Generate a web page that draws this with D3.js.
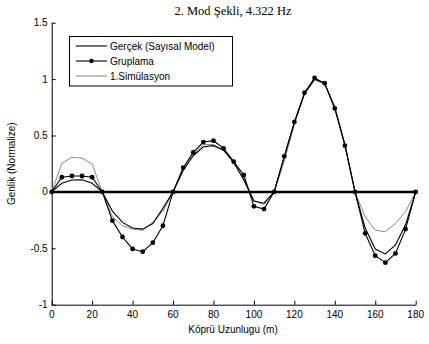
<!DOCTYPE html>
<html>
<head>
<meta charset="utf-8">
<script src="https://cdn.jsdelivr.net/npm/d3@7"></script>
<style>
  body { margin: 0; background: #fff; }
  svg text { font-family: "Liberation Sans", Arial, sans-serif; }
</style>
</head>
<body>
<div id="chart"></div>
<script>
// data (x every 5 m)
let positions = d3.range(0, 181, 5);

let gercek = [0, 0.076, 0.105, 0.108, 0.076, 0,
  -0.17, -0.27, -0.32, -0.33, -0.28, -0.146, 0,
  0.19, 0.32, 0.40, 0.41, 0.37, 0.26, 0.105, -0.08, -0.10, 0,
  0.31, 0.61, 0.87, 1.0, 0.96, 0.74, 0.42, 0,
  -0.32, -0.506, -0.55, -0.47, -0.29, 0];

let gruplama = [0, 0.13, 0.141, 0.141, 0.13, 0,
  -0.255, -0.40, -0.506, -0.53, -0.45, -0.30, 0,
  0.215, 0.35, 0.442, 0.454, 0.386, 0.268, 0.15, -0.128, -0.152, 0,
  0.315, 0.62, 0.88, 1.01, 0.963, 0.74, 0.41, 0,
  -0.367, -0.565, -0.627, -0.545, -0.33, 0];

let simulasyon = [0, 0.253, 0.307, 0.30, 0.247, 0,
  -0.22, -0.30, -0.33, -0.34, -0.27, -0.17, 0,
  0.21, 0.33, 0.42, 0.42, 0.37, 0.27, 0.12, -0.08, -0.11, 0,
  0.27, 0.60, 0.87, 0.99, 0.96, 0.76, 0.42, 0,
  -0.22, -0.34, -0.353, -0.28, -0.175, 0];

let xTicks = [0, 20, 40, 60, 80, 100, 120, 140, 160, 180];
let yTicks = [-1, -0.5, 0, 0.5, 1, 1.5];
let legendNames = ["Gerçek (Sayısal Model)", "Gruplama", "1.Simülasyon"];

// dimensions
let W = 429, H = 344;
let plotLeft = 51.7, plotRight = 415.7, plotTop = 22.7, plotBottom = 304.7;

let svg = d3.select("#chart").append("svg")
    .attr("width", W)
    .attr("height", H);

let x = d3.scaleLinear().domain([0, 180]).range([plotLeft, plotRight]);
let y = d3.scaleLinear().domain([-1, 1.5]).range([plotBottom, plotTop]);

// title
svg.append("text")
    .attr("x", 233)
    .attr("y", 15)
    .attr("text-anchor", "middle")
    .style("font-family", "'Liberation Serif', 'Times New Roman', serif")
    .style("font-size", "12.5px")
    .text("2. Mod Şekli, 4.322 Hz");

// axes, ticks pointing inward
let xAxis = svg.append("g")
    .attr("transform", "translate(0," + plotBottom + ")")
    .call(d3.axisTop(x).tickValues(xTicks).tickSize(4).tickSizeOuter(0).tickFormat(""));
let yAxis = svg.append("g")
    .attr("transform", "translate(" + plotLeft + ",0)")
    .call(d3.axisRight(y).tickValues(yTicks).tickSize(4).tickSizeOuter(0).tickFormat(""));
[xAxis, yAxis].forEach(a => {
  a.selectAll("path, line").attr("stroke", "#000").attr("stroke-width", 1);
});

svg.selectAll(".xlab").data(xTicks).enter().append("text")
    .attr("x", d => x(d))
    .attr("y", plotBottom + 13.5)
    .attr("text-anchor", "middle")
    .style("font-size", "10px")
    .text(d => d);

svg.selectAll(".ylab").data(yTicks).enter().append("text")
    .attr("x", plotLeft - 4)
    .attr("y", d => y(d) + 3.5)
    .attr("text-anchor", "end")
    .style("font-size", "10px")
    .text(d => d);

svg.append("text")
    .attr("x", 233)
    .attr("y", 333)
    .attr("text-anchor", "middle")
    .style("font-size", "10px")
    .text("Köprü Uzunlugu (m)");

svg.append("text")
    .attr("transform", "translate(15," + ((plotTop + plotBottom) / 2) + ") rotate(-90)")
    .attr("text-anchor", "middle")
    .style("font-size", "10px")
    .text("Genlik (Normalize)");

// lines
let line = d3.line().x((d, i) => x(positions[i])).y(d => y(d));

svg.append("path").datum(simulasyon)
    .attr("d", line).attr("fill", "none")
    .attr("stroke", "#8a8a8a").attr("stroke-width", 1);

svg.append("path").datum(gercek)
    .attr("d", line).attr("fill", "none")
    .attr("stroke", "#000").attr("stroke-width", 1.1);

svg.append("path").datum(gruplama)
    .attr("d", line).attr("fill", "none")
    .attr("stroke", "#000").attr("stroke-width", 1.1);

svg.selectAll(".dot").data(gruplama).enter().append("circle")
    .attr("cx", (d, i) => x(positions[i]))
    .attr("cy", d => y(d))
    .attr("r", 2.4)
    .attr("fill", "#000");

// zero line
svg.append("line")
    .attr("x1", x(0)).attr("x2", x(180))
    .attr("y1", y(0)).attr("y2", y(0))
    .attr("stroke", "#000").attr("stroke-width", 2.5);

// legend
let legend = svg.append("g");
legend.append("rect")
    .attr("x", 69.5).attr("y", 36.5)
    .attr("width", 163).attr("height", 49.5)
    .attr("fill", "#fff").attr("stroke", "#000").attr("stroke-width", 1);

let legendRows = [46, 61, 76];
let legendColors = ["#000", "#000", "#8a8a8a"];
legendNames.forEach((name, i) => {
  legend.append("line")
      .attr("x1", 76).attr("x2", 107)
      .attr("y1", legendRows[i]).attr("y2", legendRows[i])
      .attr("stroke", legendColors[i]).attr("stroke-width", 1.1);
  if (i === 1) {
    legend.append("circle")
        .attr("cx", 91.5).attr("cy", legendRows[i]).attr("r", 2.2).attr("fill", "#000");
  }
  legend.append("text")
      .attr("x", 110)
      .attr("y", legendRows[i] + 3.5)
      .style("font-size", "10px")
      .text(name);
});
</script>
</body>
</html>
